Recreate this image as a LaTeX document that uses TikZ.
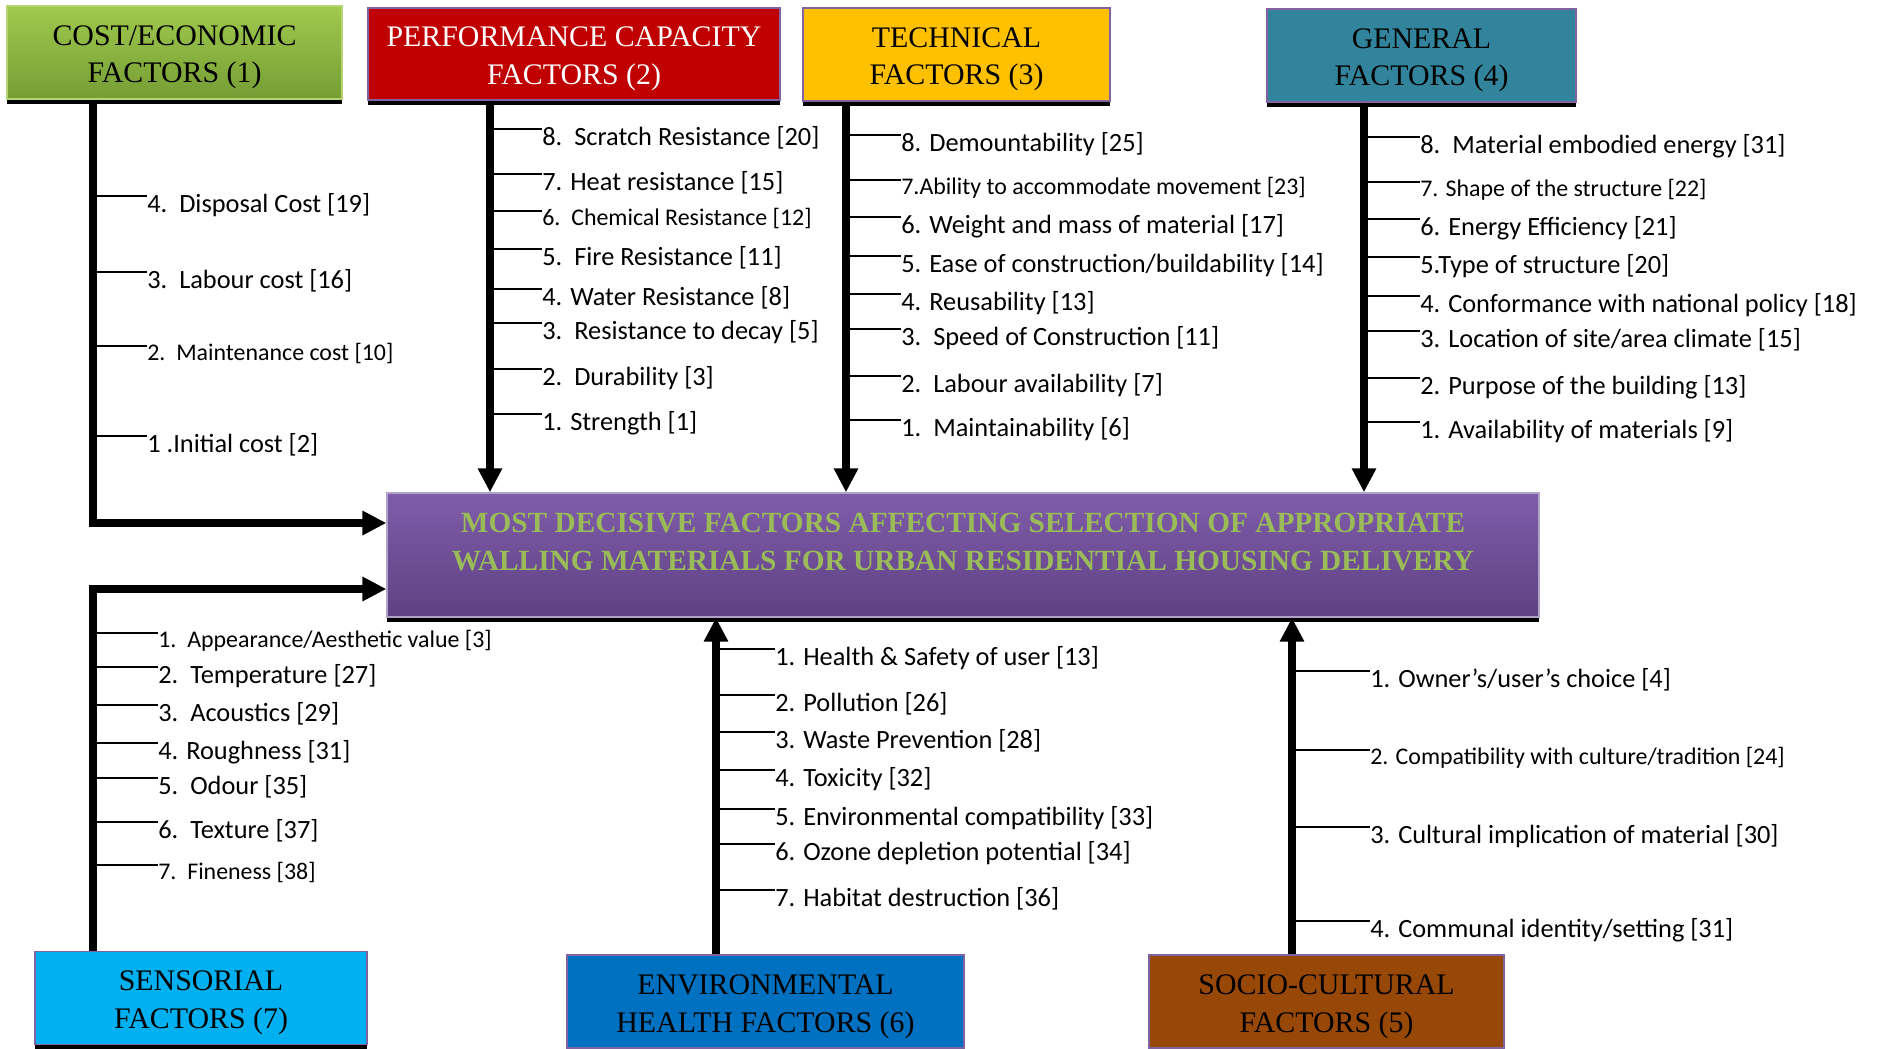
\documentclass[tikz,border=0pt]{standalone}
\usepackage{fontspec}
\setmainfont{Liberation Serif}
\newfontfamily\calibri{Carlito}
\usepackage{tikz}
\usetikzlibrary{positioning}
\usetikzlibrary{shadows,arrows.meta}
\definecolor{costtop}{RGB}{160,201,78}
\definecolor{costbot}{RGB}{117,157,52}
\definecolor{perfred}{RGB}{192,0,0}
\definecolor{techyellow}{RGB}{255,192,0}
\definecolor{genteal}{RGB}{49,132,155}
\definecolor{senscyan}{RGB}{0,176,240}
\definecolor{envblue}{RGB}{0,112,192}
\definecolor{sociobrown}{RGB}{151,71,6}
\definecolor{goaltop}{RGB}{127,92,170}
\definecolor{goalbot}{RGB}{95,66,131}
\definecolor{goaltext}{RGB}{155,187,89}
\definecolor{rimpurple}{RGB}{128,100,162}
\newcommand{\boxfont}{\fontsize{17}{21.5}\selectfont}
\newcommand{\goalfont}{\bfseries\fontsize{16.7}{21.5}\selectfont}
\newcommand{\itemfont}{\calibri\fontsize{15}{18}\selectfont}
\newcommand{\smallitemfont}{\calibri\fontsize{13.6}{16}\selectfont}
\tikzstyle{factor} = [rectangle, draw=rimpurple, line width=0.8pt, align=center, font=\boxfont, inner ysep=2pt, minimum height=1.86cm, text height=1.34cm, text depth=0.12cm, general shadow={fill=black, shadow yshift=-0.1cm}]
\tikzstyle{goal} = [rectangle, draw=rimpurple!60, line width=0.8pt, top color=goaltop, bottom color=goalbot, align=center, text=goaltext, font=\goalfont, minimum width=23.04cm, minimum height=2.48cm, text height=1.16cm, text depth=0.56cm, general shadow={fill=black, shadow yshift=-0.1cm}]
\tikzstyle{item} = [anchor=north west, inner sep=0pt, text height=0.32cm, text depth=0.1cm, font=\itemfont]
\tikzstyle{smallitem} = [item, text height=0.28cm, font=\smallitemfont]
\tikzstyle{spine} = [draw, line width=4.5pt, -{Triangle[length=0.48cm, width=0.46cm]}]
\tikzstyle{tick} = [draw, line width=0.8pt]

\begin{document}
\begin{tikzpicture}[auto, x=0.02cm, y=-0.02cm]
	\useasboundingbox (0,0) rectangle (1882,1048);

	% place nodes
	\node [goal] (M) at (963,555) {MOST DECISIVE FACTORS AFFECTING SELECTION OF APPROPRIATE\\WALLING MATERIALS FOR URBAN RESIDENTIAL HOUSING DELIVERY};
	\node [factor, draw=costtop!80!white, top color=costtop, bottom color=costbot, minimum width=6.7cm] (F1) at (174.5,52.5) {COST/ECONOMIC\\FACTORS (1)};
	\node [factor, fill=perfred, text=white, minimum width=8.24cm, minimum height=1.84cm] (F2) at (574,54) {PERFORMANCE CAPACITY\\FACTORS (2)};
	\node [factor, fill=techyellow, minimum width=6.14cm] (F3) at (956.5,54.5) {TECHNICAL\\FACTORS (3)};
	\node [factor, fill=genteal, minimum width=6.18cm] (F4) at (1421.5,55.5) {GENERAL\\FACTORS (4)};
	\node [factor, fill=sociobrown, minimum width=7.1cm] (F5) at (1326.5,1001.5) {SOCIO-CULTURAL\\FACTORS (5)};
	\node [factor, fill=envblue, minimum width=7.94cm] (F6) at (765.5,1001.5) {ENVIRONMENTAL\\HEALTH FACTORS (6)};
	\node [factor, fill=senscyan, minimum width=6.64cm] (F7) at (201,998) {SENSORIAL\\FACTORS (7)};

	% cost/economic factors
	\node [item]      (F1-4) at (147,196) {4.~~Disposal Cost [19]};
	\node [item]      (F1-3) at (147,272) {3.~~Labour cost [16]};
	\node [smallitem] (F1-2) at (147,346) {2.~~Maintenance cost [10]};
	\node [item]      (F1-1) at (147,436) {1~.Initial cost [2]};

	% performance capacity factors
	\node [item]      (F2-8) at (542,129) {8.~~Scratch Resistance [20]};
	\node [item]      (F2-7) at (542,174) {7. Heat resistance [15]};
	\node [smallitem] (F2-6) at (542,211) {6.~~Chemical Resistance [12]};
	\node [item]      (F2-5) at (542,249) {5.~~Fire Resistance [11]};
	\node [item]      (F2-4) at (542,289) {4. Water Resistance [8]};
	\node [item]      (F2-3) at (542,323) {3.~~Resistance to decay [5]};
	\node [item]      (F2-2) at (542,369) {2.~~Durability [3]};
	\node [item]      (F2-1) at (542,414) {1. Strength [1]};

	% technical factors
	\node [item]      (F3-8) at (901,135) {8. Demountability [25]};
	\node [smallitem] (F3-7) at (901,180) {7.Ability to accommodate movement [23]};
	\node [item]      (F3-6) at (901,217) {6. Weight and mass of material [17]};
	\node [item]      (F3-5) at (901,256) {5. Ease of construction/buildability [14]};
	\node [item]      (F3-4) at (901,294) {4. Reusability [13]};
	\node [item]      (F3-3) at (901,329) {3.~~Speed of Construction [11]};
	\node [item]      (F3-2) at (901,376) {2.~~Labour availability [7]};
	\node [item]      (F3-1) at (901,420) {1.~~Maintainability [6]};

	% general factors
	\node [item]      (F4-8) at (1420,137) {8.~~Material embodied energy [31]};
	\node [smallitem] (F4-7) at (1420,182) {7. Shape of the structure [22]};
	\node [item]      (F4-6) at (1420,219) {6. Energy Efficiency [21]};
	\node [item]      (F4-5) at (1420,257) {5.Type of structure [20]};
	\node [item]      (F4-4) at (1420,296) {4. Conformance with national policy [18]};
	\node [item]      (F4-3) at (1420,331) {3. Location of site/area climate [15]};
	\node [item]      (F4-2) at (1420,378) {2. Purpose of the building [13]};
	\node [item]      (F4-1) at (1420,422) {1. Availability of materials [9]};

	% socio-cultural factors
	\node [item]      (F5-1) at (1370,671) {1. Owner’s/user’s choice [4]};
	\node [smallitem] (F5-2) at (1370,750) {2. Compatibility with culture/tradition [24]};
	\node [item]      (F5-3) at (1370,827) {3. Cultural implication of material [30]};
	\node [item]      (F5-4) at (1370,921) {4. Communal identity/setting [31]};

	% environmental health factors
	\node [item]      (F6-1) at (775,649) {1. Health \& Safety of user [13]};
	\node [item]      (F6-2) at (775,695) {2. Pollution [26]};
	\node [item]      (F6-3) at (775,732) {3. Waste Prevention [28]};
	\node [item]      (F6-4) at (775,770) {4. Toxicity [32]};
	\node [item]      (F6-5) at (775,809) {5. Environmental compatibility [33]};
	\node [item]      (F6-6) at (775,844) {6. Ozone depletion potential [34]};
	\node [item]      (F6-7) at (775,890) {7. Habitat destruction [36]};

	% sensorial factors
	\node [smallitem] (F7-1) at (158,633) {1.~~Appearance/Aesthetic value [3]};
	\node [item]      (F7-2) at (158,667) {2.~~Temperature [27]};
	\node [item]      (F7-3) at (158,705) {3.~~Acoustics [29]};
	\node [item]      (F7-4) at (158,743) {4. Roughness [31]};
	\node [item]      (F7-5) at (158,778) {5.~~Odour [35]};
	\node [item]      (F7-6) at (158,822) {6.~~Texture [37]};
	\node [smallitem] (F7-7) at (158,865) {7.~~Fineness [38]};

	% spine positions
	\coordinate (s1) at (93,523);
	\coordinate (s2) at (490,0);
	\coordinate (s3) at (846,0);
	\coordinate (s4) at (1364,0);
	\coordinate (s5) at (1292,0);
	\coordinate (s6) at (716,0);
	\coordinate (s7) at (93,589);

	% draw edges
	\path [spine] (F1.south -| s1) -- (s1) -- (s1 -| M.west);
	\path [spine] (F2.south -| s2) -- (M.north -| s2);
	\path [spine] (F3.south -| s3) -- (M.north -| s3);
	\path [spine] (F4.south -| s4) -- (M.north -| s4);
	\path [spine] (F5.north -| s5) -- (M.south -| s5);
	\path [spine] (F6.north -| s6) -- (M.south -| s6);
	\path [spine] (F7.north -| s7) -- (s7) -- (s7 -| M.west);

	\path [tick] (F1-4.north west) -- (F1-4.north west -| s1);
	\path [tick] (F1-3.north west) -- (F1-3.north west -| s1);
	\path [tick] (F1-2.north west) -- (F1-2.north west -| s1);
	\path [tick] (F1-1.north west) -- (F1-1.north west -| s1);

	\path [tick] (F2-8.north west) -- (F2-8.north west -| s2);
	\path [tick] (F2-7.north west) -- (F2-7.north west -| s2);
	\path [tick] (F2-6.north west) -- (F2-6.north west -| s2);
	\path [tick] (F2-5.north west) -- (F2-5.north west -| s2);
	\path [tick] (F2-4.north west) -- (F2-4.north west -| s2);
	\path [tick] (F2-3.north west) -- (F2-3.north west -| s2);
	\path [tick] (F2-2.north west) -- (F2-2.north west -| s2);
	\path [tick] (F2-1.north west) -- (F2-1.north west -| s2);

	\path [tick] (F3-8.north west) -- (F3-8.north west -| s3);
	\path [tick] (F3-7.north west) -- (F3-7.north west -| s3);
	\path [tick] (F3-6.north west) -- (F3-6.north west -| s3);
	\path [tick] (F3-5.north west) -- (F3-5.north west -| s3);
	\path [tick] (F3-4.north west) -- (F3-4.north west -| s3);
	\path [tick] (F3-3.north west) -- (F3-3.north west -| s3);
	\path [tick] (F3-2.north west) -- (F3-2.north west -| s3);
	\path [tick] (F3-1.north west) -- (F3-1.north west -| s3);

	\path [tick] (F4-8.north west) -- (F4-8.north west -| s4);
	\path [tick] (F4-7.north west) -- (F4-7.north west -| s4);
	\path [tick] (F4-6.north west) -- (F4-6.north west -| s4);
	\path [tick] (F4-5.north west) -- (F4-5.north west -| s4);
	\path [tick] (F4-4.north west) -- (F4-4.north west -| s4);
	\path [tick] (F4-3.north west) -- (F4-3.north west -| s4);
	\path [tick] (F4-2.north west) -- (F4-2.north west -| s4);
	\path [tick] (F4-1.north west) -- (F4-1.north west -| s4);

	\path [tick] (F5-1.north west) -- (F5-1.north west -| s5);
	\path [tick] (F5-2.north west) -- (F5-2.north west -| s5);
	\path [tick] (F5-3.north west) -- (F5-3.north west -| s5);
	\path [tick] (F5-4.north west) -- (F5-4.north west -| s5);

	\path [tick] (F6-1.north west) -- (F6-1.north west -| s6);
	\path [tick] (F6-2.north west) -- (F6-2.north west -| s6);
	\path [tick] (F6-3.north west) -- (F6-3.north west -| s6);
	\path [tick] (F6-4.north west) -- (F6-4.north west -| s6);
	\path [tick] (F6-5.north west) -- (F6-5.north west -| s6);
	\path [tick] (F6-6.north west) -- (F6-6.north west -| s6);
	\path [tick] (F6-7.north west) -- (F6-7.north west -| s6);

	\path [tick] (F7-1.north west) -- (F7-1.north west -| s7);
	\path [tick] (F7-2.north west) -- (F7-2.north west -| s7);
	\path [tick] (F7-3.north west) -- (F7-3.north west -| s7);
	\path [tick] (F7-4.north west) -- (F7-4.north west -| s7);
	\path [tick] (F7-5.north west) -- (F7-5.north west -| s7);
	\path [tick] (F7-6.north west) -- (F7-6.north west -| s7);
	\path [tick] (F7-7.north west) -- (F7-7.north west -| s7);
\end{tikzpicture}
\end{document}
